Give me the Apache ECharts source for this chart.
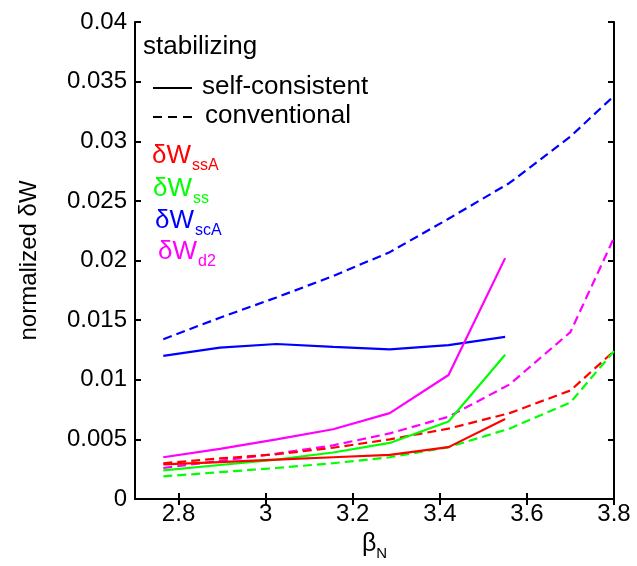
<!DOCTYPE html>
<html>
<head>
<meta charset="utf-8">
<script src="https://cdn.jsdelivr.net/npm/echarts@6/dist/echarts.min.js"></script>
<style>html,body{margin:0;padding:0;background:#fff}#c{width:637px;height:566px}</style>
</head>
<body>
<div id="c"></div>
<script>
// beta_N values
const betaSelf = [2.765, 2.895, 3.025, 3.155, 3.285, 3.42, 3.55];
const betaConv = [2.765, 2.895, 3.025, 3.155, 3.285, 3.42, 3.56, 3.70, 3.80];
// self-consistent (solid) values
const ssA_self = [0.0029, 0.0031, 0.0033, 0.0035, 0.0037, 0.00435, 0.0067];
const ss_self  = [0.0024, 0.00285, 0.0033, 0.0039, 0.0047, 0.0065, 0.0121];
const scA_self = [0.0120, 0.0127, 0.0130, 0.01275, 0.01255, 0.0129, 0.0136];
const d2_self  = [0.0035, 0.0042, 0.0050, 0.00585, 0.0072, 0.0104, 0.0202];
// conventional (dashed) values
const ssA_conv = [0.0030, 0.0034, 0.00375, 0.0043, 0.0050, 0.0059, 0.0072, 0.0091, 0.0124];
const ss_conv  = [0.0019, 0.00225, 0.0026, 0.0030, 0.0035, 0.00435, 0.0059, 0.0081, 0.0124];
const scA_conv = [0.0134, 0.0152, 0.0169, 0.0187, 0.0207, 0.0235, 0.0265, 0.0304, 0.0338];
const d2_conv  = [0.0026, 0.0032, 0.0038, 0.0045, 0.0055, 0.0069, 0.0096, 0.0140, 0.0219];
const xTicks = [2.8, 3, 3.2, 3.4, 3.6, 3.8];

const RED = '#ff0000', GREEN = '#00ff00', BLUE = '#0000ff', MAG = '#ff00ff';
const FONT = '"Liberation Sans", Arial, sans-serif';

function pairs(xs, ys) { return xs.map((x, i) => [x, ys[i]]); }
function ser(xs, ys, color, dashed) {
  return {
    type: 'line', xAxisIndex: 0, yAxisIndex: 0, data: pairs(xs, ys),
    showSymbol: false, symbol: 'none', animation: false, z: dashed ? 3 : 4,
    lineStyle: { color: color, width: 2.2, type: dashed ? [9, 5] : 'solid' }
  };
}
function label(text, color, left, top) {
  return { type: 'text', left: left, top: top, z: 10,
    style: { text: text, fill: color, rich: {
      b: { fontSize: 26, fontFamily: FONT, fill: color, verticalAlign: 'bottom', lineHeight: 28 },
      s: { fontSize: 16, fontFamily: FONT, fill: color, verticalAlign: 'bottom', lineHeight: 20, padding: [0, 0, -5, 1] } } } };
}

const chart = echarts.init(document.getElementById('c'), null, { renderer: 'canvas' });
const axisLine = { show: true, lineStyle: { color: '#000', width: 2 } };
const tick = { show: true, inside: true, length: 6, lineStyle: { color: '#000', width: 2 } };

chart.setOption({
  animation: false,
  backgroundColor: '#fff',
  textStyle: { fontFamily: FONT },
  grid: { left: 135, right: 23, top: 22, bottom: 66, containLabel: false },
  xAxis: [{
    type: 'value', min: 2.7, max: 3.8, position: 'bottom',
    axisLine: axisLine,
    axisTick: Object.assign({}, tick, { customValues: xTicks }),
    axisLabel: { customValues: xTicks, color: '#000', fontSize: 24, fontFamily: FONT, margin: 3,
      formatter: v => String(Math.round(v * 10) / 10) },
    splitLine: { show: false },
    name: '{b|β}{s|N}', nameLocation: 'middle', nameGap: 30,
    nameTextStyle: { rich: {
      b: { fontSize: 25, fontFamily: FONT, color: '#000', verticalAlign: 'bottom', lineHeight: 28 },
      s: { fontSize: 15, fontFamily: FONT, color: '#000', verticalAlign: 'bottom', lineHeight: 20, padding: [0, 0, -4, 0] }
    } }
  }, {
    type: 'value', min: 2.7, max: 3.8, position: 'top',
    axisLine: axisLine,
    axisTick: Object.assign({}, tick, { customValues: xTicks }),
    axisLabel: { show: false }, splitLine: { show: false }
  }],
  yAxis: [{
    type: 'value', min: 0, max: 0.04, interval: 0.005, position: 'left',
    axisLine: axisLine, axisTick: tick,
    axisLabel: { color: '#000', fontSize: 24, fontFamily: FONT, margin: 8 },
    splitLine: { show: false },
    name: 'normalized δW', nameLocation: 'middle', nameGap: 94,
    nameTextStyle: { color: '#000', fontSize: 24, fontFamily: FONT }
  }, {
    type: 'value', min: 0, max: 0.04, interval: 0.005, position: 'right',
    axisLine: axisLine, axisTick: tick,
    axisLabel: { show: false }, splitLine: { show: false }
  }],
  series: [
    ser(betaConv, scA_conv, BLUE, true),
    ser(betaConv, d2_conv, MAG, true),
    ser(betaConv, ssA_conv, RED, true),
    ser(betaConv, ss_conv, GREEN, true),
    ser(betaSelf, scA_self, BLUE, false),
    ser(betaSelf, d2_self, MAG, false),
    ser(betaSelf, ss_self, GREEN, false),
    ser(betaSelf, ssA_self, RED, false)
  ],
  graphic: [
    { type: 'text', left: 143, top: 34, z: 10,
      style: { text: 'stabilizing', fontSize: 26, fontFamily: FONT, fill: '#000' } },
    { type: 'line', z: 10, shape: { x1: 153, y1: 88, x2: 192, y2: 88 },
      style: { stroke: '#000', lineWidth: 2.2 } },
    { type: 'text', left: 202, top: 74, z: 10,
      style: { text: 'self-consistent', fontSize: 26, fontFamily: FONT, fill: '#000' } },
    { type: 'line', z: 10, shape: { x1: 153, y1: 117, x2: 193, y2: 117 },
      style: { stroke: '#000', lineWidth: 2.2, lineDash: [9, 6] } },
    { type: 'text', left: 205, top: 103, z: 10,
      style: { text: 'conventional', fontSize: 26, fontFamily: FONT, fill: '#000' } },
    label('{b|δW}{s|ssA}', RED, 152, 143),
    label('{b|δW}{s|ss}', GREEN, 153, 176),
    label('{b|δW}{s|scA}', BLUE, 155, 208),
    label('{b|δW}{s|d2}', MAG, 158, 239)
  ]
});
</script>
</body>
</html>
